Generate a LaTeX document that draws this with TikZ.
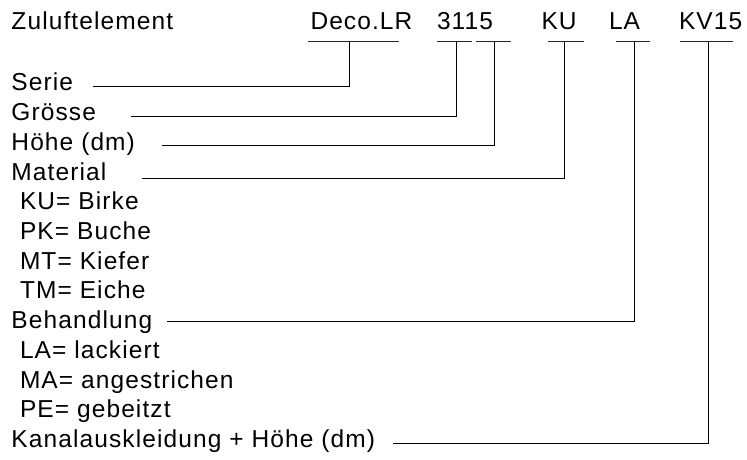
\documentclass[tikz,border=0pt]{standalone}
\usepackage{fontspec}
\setmainfont{Liberation Sans}[LetterSpace=4.5]
\begin{document}
\begin{tikzpicture}[x=1pt,y=-1pt,
  lbl/.style={anchor=base west,inner sep=0pt,outer sep=0pt,font=\fontsize{24.5}{28}\selectfont,text=black},
  ul/.style={line width=1pt,draw=black!85},
  conn/.style={line width=1pt,draw=black}]
\useasboundingbox (0,0) rectangle (747,460);
% header
\node[lbl] (zul) at (11.5,29.5) {Zuluftelement};
\node[lbl] (deco) at (310.5,29.5) {Deco.LR};
\node[lbl] (size) at (437,29.5) {3115};
\node[lbl] (ku) at (541.5,29.5) {KU};
\node[lbl] (la) at (609,29.5) {LA};
\node[lbl] (kv) at (679,29.5) {KV15};
% underlines
\draw[ul] (308,42) -- (399,42);
\draw[ul] (437,42) -- (472,42);
\draw[ul] (476,42) -- (511,42);
\draw[ul] (548,42) -- (584,42);
\draw[ul] (616,42) -- (650,42);
\draw[ul] (680,42) -- (733,42);
\coordinate (uDeco) at (349,42);
\coordinate (uSize) at (456.5,42);
\coordinate (uH) at (494,42);
\coordinate (uKU) at (564,42);
\coordinate (uLA) at (634,42);
\coordinate (uKV) at (708,42);
% left column
\node[lbl] (serie) at (11.5,91) {Serie};
\node[lbl] (gr) at (11.5,120.7) {Grösse};
\node[lbl] (hoehe) at (11.5,150.4) {Höhe (dm)};
\node[lbl] (mat) at (11.5,180.1) {Material};
\node[lbl] (m1) at (20,209.8) {KU= Birke};
\node[lbl] (m2) at (20,239.5) {PK= Buche};
\node[lbl] (m3) at (20,269.2) {MT= Kiefer};
\node[lbl] (m4) at (20,298.9) {TM= Eiche};
\node[lbl] (beh) at (11.5,328.6) {Behandlung};
\node[lbl] (b1) at (20,358.3) {LA= lackiert};
\node[lbl] (b2) at (20,388) {MA= angestrichen};
\node[lbl] (b3) at (20,417.7) {PE= gebeitzt};
\node[lbl] (kan) at (11.5,447.4) {Kanalauskleidung + Höhe (dm)};
% connector starts
\coordinate (sSerie) at (93,86);
\coordinate (sGr) at (131,116);
\coordinate (sH) at (162,145);
\coordinate (sMat) at (142,178);
\coordinate (sBeh) at (167,321);
\coordinate (sKan) at (393,443);
% connectors
\draw[conn] (sSerie) -| (uDeco);
\draw[conn] (sGr) -| (uSize);
\draw[conn] (sH) -| (uH);
\draw[conn] (sMat) -| (uKU);
\draw[conn] (sBeh) -| (uLA);
\draw[conn] (sKan) -| (uKV);
\end{tikzpicture}
\end{document}
